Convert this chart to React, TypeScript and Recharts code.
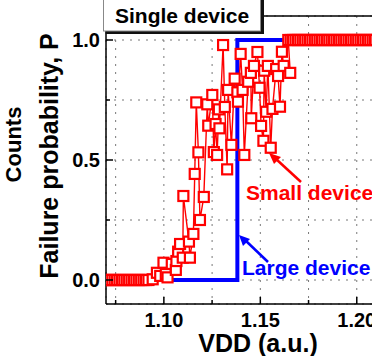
import { CartesianGrid, Line, LineChart, ReferenceLine, XAxis, YAxis } from "recharts";

const FONT = "'Liberation Sans', Arial, sans-serif";
const RED = "#ff0000";
const BLUE = "#0000ff";

// small device: flat run at P = 0, the noisy transition, flat run at P = 1
const zeroBandVdd = [
  1.067, 1.06825, 1.0695, 1.07075, 1.072, 1.07325, 1.0745, 1.07575, 1.077,
  1.07825, 1.0795, 1.08075, 1.082, 1.08325, 1.0845, 1.08575, 1.087, 1.08825,
  1.0895, 1.09075, 1.092,
];
const scatterVdd = [
  1.0942, 1.0964, 1.0981, 1.0998, 1.101, 1.1019, 1.1041, 1.1062, 1.1065, 1.1074,
  1.1084, 1.1098, 1.1101, 1.113, 1.1135, 1.1153, 1.116, 1.1168, 1.1179, 1.1187,
  1.1207, 1.1225, 1.123, 1.1251, 1.1259, 1.1268, 1.1276, 1.1285, 1.1288, 1.1307,
  1.1316, 1.1328, 1.1333, 1.135, 1.1367, 1.1381, 1.1384, 1.1398, 1.1408, 1.1417,
  1.1437, 1.1451, 1.1453, 1.1467, 1.1485, 1.1496, 1.1504, 1.1516, 1.152, 1.153,
  1.1539, 1.1554, 1.1563, 1.1582, 1.1592, 1.1602, 1.1612, 1.1621, 1.1655,
];
const scatterP = [
  0.003, 0.03, 0.017, 0.072, 0.025, 0.011, 0.067, 0.042, 0.079, 0.118,
  0.15, 0.093, 0.35, 0.16, 0.093, 0.192, 0.442, 0.74, 0.532, 0.25,
  0.346, 0.732, 0.643, 0.771, 0.533, 0.65, 0.521, 0.711, 0.632, 0.979,
  0.721, 0.461, 0.792, 0.563, 0.839, 0.782, 0.743, 0.942, 0.792, 0.521,
  0.826, 0.863, 0.674, 0.892, 0.95, 0.801, 0.642, 0.58, 0.872, 0.701,
  0.892, 0.551, 0.713, 0.879, 0.85, 0.722, 0.951, 0.892, 0.863,
];
const oneBandVdd = [
  1.1645, 1.16575, 1.167, 1.16825, 1.1695, 1.17075, 1.172, 1.17325, 1.1745,
  1.17575, 1.177, 1.17825, 1.1795, 1.18075, 1.182, 1.18325, 1.1845, 1.18575,
  1.187, 1.18825, 1.1895, 1.19075, 1.192, 1.19325, 1.1945, 1.19575, 1.197,
  1.19825, 1.1995, 1.20075, 1.202, 1.20325, 1.2045, 1.20575, 1.207, 1.20825,
  1.2095, 1.21075,
];

// large device: a single step
const largeVdd = [1.067, 1.1381, 1.1381, 1.23];
const largeP = [0, 0, 1, 1];

const xTicks = [1.075, 1.1, 1.125, 1.15, 1.175, 1.2, 1.225];
const xLabels = ["", "1.10", "", "1.15", "", "1.20", ""];
const yTicks = [0, 0.25, 0.5, 0.75, 1];
const yLabels = ["0.0", "", "0.5", "", "1.0"];

const smallData = [
  ...zeroBandVdd.map((vdd) => ({ vdd, p: 0 })),
  ...scatterVdd.map((vdd, i) => ({ vdd, p: scatterP[i] })),
  ...oneBandVdd.map((vdd) => ({ vdd, p: 1 })),
];
const largeData = largeVdd.map((vdd, i) => ({ vdd, p: largeP[i] }));

function XTick(props: any) {
  const { x, y, payload } = props;
  const label = xLabels[xTicks.indexOf(payload.value)] ?? "";
  const major = label !== "";
  return (
    <g>
      <line x1={x} x2={x} y1={y} y2={y - (major ? 7 : 4)} stroke="#000" strokeWidth={1.5} />
      {major && (
        <text x={x} y={y + 23} textAnchor="middle" fontFamily={FONT} fontWeight="bold" fontSize={20} fill="#000">
          {label}
        </text>
      )}
    </g>
  );
}

function YTick(props: any) {
  const { x, y, payload } = props;
  const label = yLabels[yTicks.indexOf(payload.value)] ?? "";
  const major = label !== "";
  return (
    <g>
      <line x1={x} x2={x + (major ? 7 : 4)} y1={y} y2={y} stroke="#000" strokeWidth={1.5} />
      {major && (
        <text x={x - 6} y={y + 7} textAnchor="end" fontFamily={FONT} fontWeight="bold" fontSize={20} fill="#000">
          {label}
        </text>
      )}
    </g>
  );
}

function SquareDot(props: any) {
  const { cx, cy, index } = props;
  if (cx == null || cy == null) return <g key={`d${index}`} />;
  return (
    <rect
      key={`d${index}`}
      x={cx - 5}
      y={cy - 5}
      width={10}
      height={10}
      fill="#fff"
      stroke={RED}
      strokeWidth={2.2}
    />
  );
}

export default function App() {
  return (
    <div style={{ position: "absolute", left: 0, top: 0, width: 372, height: 356, overflow: "hidden", background: "#fff" }}>
      <LineChart width={420} height={356} margin={{ top: 16, right: 15, bottom: 0, left: 0 }}>
        <CartesianGrid stroke="#777" strokeDasharray="2 6" />
        <XAxis
          dataKey="vdd"
          type="number"
          domain={[1.07, 1.225]}
          allowDataOverflow
          ticks={xTicks}
          interval={0}
          height={52}
          tickSize={0}
          tickMargin={0}
          tick={<XTick />}
          axisLine={{ stroke: "#000", strokeWidth: 1.5 }}
        />
        <YAxis
          type="number"
          domain={[-0.1, 1.1]}
          allowDataOverflow
          ticks={yTicks}
          interval={0}
          width={106}
          tickSize={0}
          tickMargin={0}
          tick={<YTick />}
          axisLine={{ stroke: "#000", strokeWidth: 1.5 }}
        />
        <ReferenceLine y={1.1} stroke="#000" strokeWidth={1.5} />
        <Line
          data={largeData}
          dataKey="p"
          type="linear"
          stroke={BLUE}
          strokeWidth={4}
          dot={false}
          isAnimationActive={false}
        />
        <Line
          data={smallData}
          dataKey="p"
          type="linear"
          stroke={RED}
          strokeWidth={1.4}
          dot={SquareDot}
          isAnimationActive={false}
        />
      </LineChart>
      <svg width={372} height={356} style={{ position: "absolute", left: 0, top: 0, pointerEvents: "none" }}>
        <g fontFamily={FONT} fontWeight="bold">
          <rect x={106} y={-5} width={158} height={39} fill="#111" />
          <rect x={103.5} y={-5} width={157} height={36} fill="#fff" stroke="#888" strokeWidth={1} />
          <text x={115} y={23} fontSize={21} fill="#000">Single device</text>

          <text transform="translate(20.5,144.5) rotate(-90)" textAnchor="middle" fontSize={22} fill="#000">Counts</text>
          <text transform="translate(58,156) rotate(-90)" textAnchor="middle" fontSize={25} fill="#000">Failure probability, P</text>
          <text x={258} y={352} textAnchor="middle" fontSize={25} fill="#000">VDD (a.u.)</text>

          <text x={246} y={200} fontSize={21} fill={RED}>Small device</text>
          <line x1={301} y1={182} x2={276} y2={159} stroke={RED} strokeWidth={2.5} />
          <polygon points="269,153 281,157 274,164" fill={RED} />

          <text x={242} y={275} fontSize={21} fill={BLUE}>Large device</text>
          <line x1={268} y1={262} x2={245} y2={240} stroke={BLUE} strokeWidth={2.5} />
          <polygon points="239,235 250,239 243,246" fill={BLUE} />
        </g>
      </svg>
    </div>
  );
}
